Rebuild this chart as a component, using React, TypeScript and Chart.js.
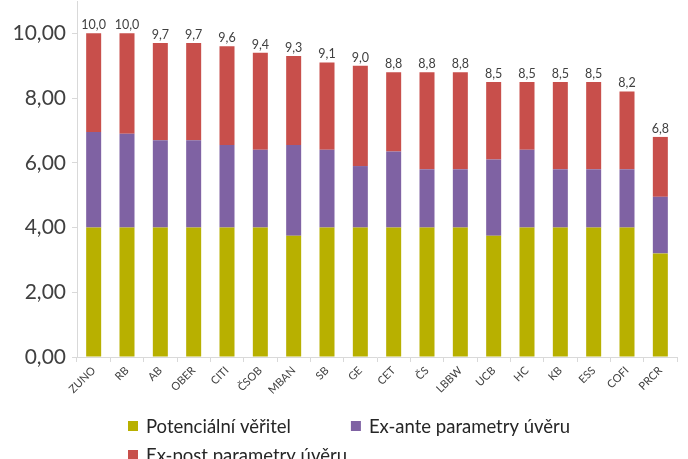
import React, { useEffect, useRef } from 'react';
import { Chart, registerables } from 'chart.js';

Chart.register(...registerables);

const categories = ['ZUNO', 'RB', 'AB', 'OBER', 'CITI', 'ČSOB', 'MBAN', 'SB', 'GE', 'CET', 'ČS', 'LBBW', 'UCB', 'HC', 'KB', 'ESS', 'COFI', 'PRCR'];
const potencialniVeritel = [4.0, 4.0, 4.0, 4.0, 4.0, 4.0, 3.75, 4.0, 4.0, 4.0, 4.0, 4.0, 3.75, 4.0, 4.0, 4.0, 4.0, 3.2];
const exAnteParametry = [2.95, 2.9, 2.7, 2.7, 2.55, 2.4, 2.8, 2.4, 1.9, 2.35, 1.8, 1.8, 2.35, 2.4, 1.8, 1.8, 1.8, 1.75];
const exPostParametry = [3.05, 3.1, 3.0, 3.0, 3.05, 3.0, 2.75, 2.7, 3.1, 2.45, 3.0, 3.0, 2.4, 2.1, 2.7, 2.7, 2.4, 1.85];
const seriesNames = ['Potenciální věřitel', 'Ex-ante parametry úvěru', 'Ex-post parametry úvěru'];
const seriesColors = ['#b8b000', '#7f62a3', '#c84f4b'];
const yMin = 0;
const yMax = 11;
const yStep = 2;

const FONT = 'Lato, "Open Sans", sans-serif';

const fmt = (v: number, d: number) => v.toFixed(d).replace('.', ',');

const totalsPlugin = {
  id: 'totals',
  afterDatasetsDraw(chart: any) {
    const ctx = chart.ctx;
    const last = chart.data.datasets.length - 1;
    const meta = chart.getDatasetMeta(last);
    ctx.save();
    ctx.font = `12.5px ${FONT}`;
    ctx.fillStyle = '#404040';
    ctx.textAlign = 'center';
    ctx.textBaseline = 'bottom';
    meta.data.forEach((bar: any, i: number) => {
      const total = chart.data.datasets.reduce((s: number, ds: any) => s + ds.data[i], 0);
      ctx.fillText(fmt(Math.round(total * 10) / 10, 1), bar.x, bar.y - 2);
    });
    ctx.restore();
  },
};

const legendPlugin = {
  id: 'wrapLegend',
  afterDraw(chart: any) {
    const ctx = chart.ctx;
    ctx.save();
    ctx.font = `18.5px ${FONT}`;
    ctx.textBaseline = 'middle';
    ctx.textAlign = 'left';
    const startX = 128;
    const rows = [426, 455];
    const box = 10;
    const textGap = 8;
    const gap = 60;
    let x = startX;
    let row = 0;
    chart.data.datasets.forEach((ds: any) => {
      const w = box + textGap + ctx.measureText(ds.label).width;
      if (x > startX && x + w > chart.width - 20) {
        row++;
        x = startX;
      }
      const y = rows[row];
      ctx.fillStyle = ds.backgroundColor;
      ctx.fillRect(x, y - box / 2, box, box);
      ctx.fillStyle = '#262626';
      ctx.fillText(ds.label, x + box + textGap, y + 1);
      x += w + gap;
    });
    ctx.restore();
  },
};

export default function App() {
  const ref = useRef<HTMLCanvasElement>(null);
  useEffect(() => {
    document.body.style.margin = '0';
    const chart = new Chart(ref.current as HTMLCanvasElement, {
      type: 'bar',
      data: {
        labels: categories,
        datasets: [potencialniVeritel, exAnteParametry, exPostParametry].map((d, i) => ({
          label: seriesNames[i],
          data: d,
          backgroundColor: seriesColors[i],
          borderWidth: 0,
          barPercentage: 0.45,
          categoryPercentage: 1,
        })),
      },
      options: {
        animation: false,
        responsive: false,
        layout: { padding: { top: 1, right: 11, left: 0, bottom: 0 } },
        plugins: {
          legend: { display: false },
          tooltip: { enabled: false },
        },
        scales: {
          x: {
            stacked: true,
            grid: { drawOnChartArea: false, drawTicks: true, tickLength: 5, color: '#d9d9d9', offset: true },
            border: { color: '#d9d9d9' },
            ticks: { minRotation: 45, maxRotation: 45, color: '#404040', font: { family: FONT, size: 11 }, padding: 2 },
            afterFit: (s: any) => { s.height = 102; },
          },
          y: {
            stacked: true,
            min: yMin,
            max: yMax,
            ticks: {
              stepSize: yStep,
              includeBounds: false,
              color: '#404040',
              font: { family: FONT, size: 21 },
              padding: 6,
              callback: (v: any) => fmt(Number(v), 2),
            },
            grid: { drawOnChartArea: false, tickLength: 5, color: '#d9d9d9' },
            border: { color: '#d9d9d9' },
            afterFit: (s: any) => { s.width = 77; s.paddingTop = 0; s.paddingBottom = 0; },
          },
        },
      },
      plugins: [totalsPlugin, legendPlugin],
    });
    return () => chart.destroy();
  }, []);
  return <canvas ref={ref} width={688} height={459} />;
}
